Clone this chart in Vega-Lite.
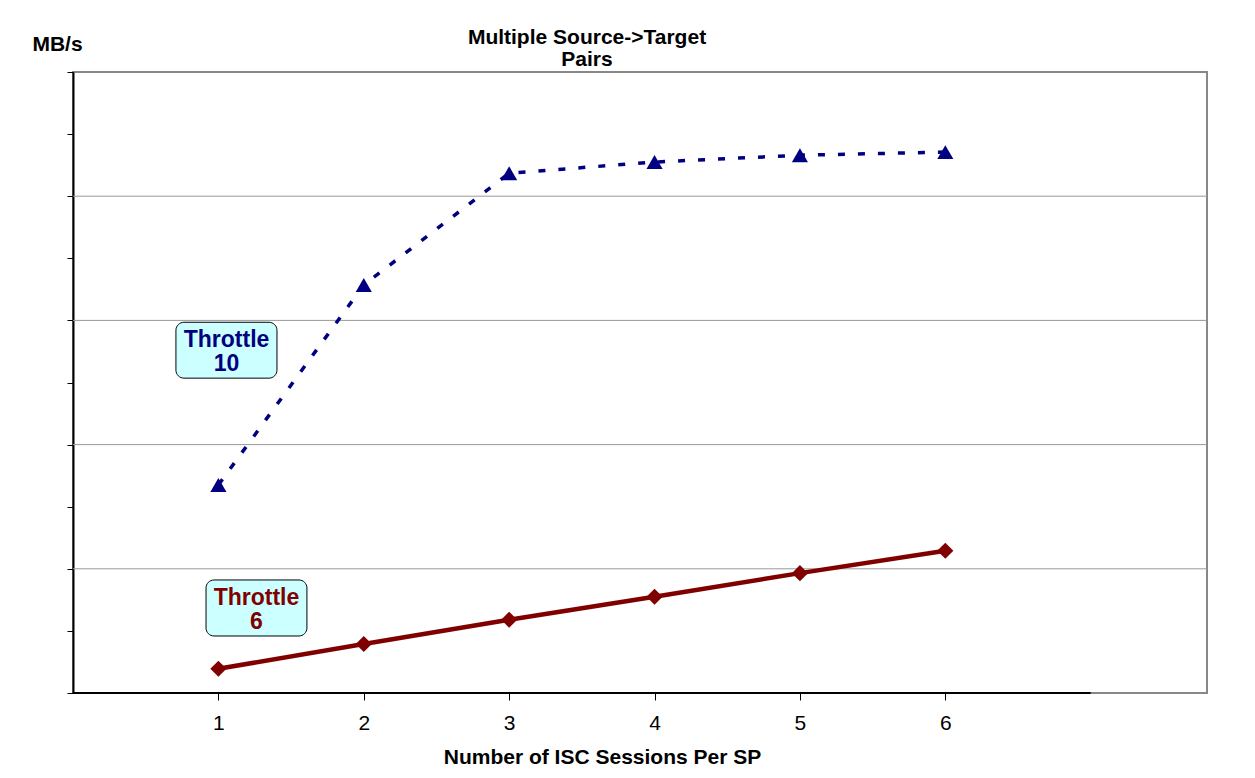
{
  "$schema": "https://vega.github.io/schema/vega-lite/v6.json",
  "width": 1134,
  "height": 621,
  "autosize": {"type": "none"},
  "padding": {"left": 73, "top": 72, "right": 48, "bottom": 85},
  "background": "white",
  "config": {
    "view": {"stroke": "#888888", "strokeWidth": 2},
    "font": "Liberation Sans"
  },
  "title": {
    "text": ["Multiple Source->Target", "Pairs"],
    "font": "Liberation Sans",
    "fontSize": 21,
    "fontWeight": "bold",
    "color": "black",
    "anchor": "middle",
    "frame": "group",
    "dx": -53,
    "offset": -37,
    "lineHeight": 22
  },
  "datasets": {
    "series": [
      {"sessions": 1, "mbps": 3.35, "series": "Throttle 10"},
      {"sessions": 2, "mbps": 6.57, "series": "Throttle 10"},
      {"sessions": 3, "mbps": 8.37, "series": "Throttle 10"},
      {"sessions": 4, "mbps": 8.55, "series": "Throttle 10"},
      {"sessions": 5, "mbps": 8.66, "series": "Throttle 10"},
      {"sessions": 6, "mbps": 8.71, "series": "Throttle 10"},
      {"sessions": 1, "mbps": 0.39, "series": "Throttle 6"},
      {"sessions": 2, "mbps": 0.79, "series": "Throttle 6"},
      {"sessions": 3, "mbps": 1.18, "series": "Throttle 6"},
      {"sessions": 4, "mbps": 1.55, "series": "Throttle 6"},
      {"sessions": 5, "mbps": 1.93, "series": "Throttle 6"},
      {"sessions": 6, "mbps": 2.29, "series": "Throttle 6"}
    ],
    "grid": [{"g": 2}, {"g": 4}, {"g": 6}, {"g": 8}],
    "boxes": [
      {"label": "Throttle\n10", "series": "Throttle 10", "x1": 0.708, "x2": 1.403, "y1": 5.07, "y2": 5.97, "tx": 1.056, "ty": 5.69},
      {"label": "Throttle\n6", "series": "Throttle 6", "x1": 0.915, "x2": 1.609, "y1": 0.918, "y2": 1.82, "tx": 1.262, "ty": 1.53}
    ],
    "baseline": [{"x1": 0, "x2": 7, "y": 0}]
  },
  "layer": [
    {
      "data": {"name": "grid"},
      "mark": {"type": "rule", "color": "#999999", "strokeWidth": 1},
      "encoding": {
        "y": {
          "field": "g",
          "type": "quantitative",
          "scale": {"domain": [0, 10], "nice": false, "zero": false},
          "axis": {
            "values": [0, 1, 2, 3, 4, 5, 6, 7, 8, 9, 10],
            "labels": false,
            "grid": false,
            "domainColor": "black",
            "domainWidth": 2,
            "tickColor": "black",
            "tickWidth": 1,
            "tickSize": 6,
            "title": "MB/s",
            "titleAngle": 0,
            "titleX": -16,
            "titleY": -28,
            "titleAlign": "center",
            "titleBaseline": "middle",
            "titleFont": "Liberation Sans",
            "titleFontSize": 21,
            "titleFontWeight": "bold",
            "titleColor": "black"
          }
        }
      }
    },
    {
      "data": {"name": "baseline"},
      "mark": {"type": "rule", "color": "black", "strokeWidth": 2},
      "encoding": {
        "x": {
          "field": "x1",
          "type": "quantitative",
          "scale": {"domain": [0, 7.8], "nice": false, "zero": false},
          "axis": {
            "values": [1, 2, 3, 4, 5, 6],
            "format": "d",
            "domain": false,
            "grid": false,
            "tickColor": "black",
            "tickWidth": 1,
            "tickSize": 7,
            "labelFont": "Liberation Sans",
            "labelFontSize": 21,
            "labelColor": "black",
            "labelPadding": 12,
            "title": "Number of ISC Sessions Per SP",
            "titleFont": "Liberation Sans",
            "titleFontSize": 21,
            "titleFontWeight": "bold",
            "titleColor": "black",
            "titleX": 529,
            "titleY": 64,
            "titleAlign": "center",
            "titleBaseline": "middle"
          }
        },
        "x2": {"field": "x2"},
        "y": {"field": "y", "type": "quantitative"}
      }
    },
    {
      "data": {"name": "series"},
      "mark": {"type": "line", "color": "#000080", "strokeWidth": 3.5, "strokeDash": [7, 13]},
      "transform": [{"filter": "datum.series === 'Throttle 10'"}],
      "encoding": {
        "x": {"field": "sessions", "type": "quantitative"},
        "y": {"field": "mbps", "type": "quantitative"}
      }
    },
    {
      "data": {"name": "series"},
      "mark": {"type": "line", "color": "#800000", "strokeWidth": 4.5},
      "transform": [{"filter": "datum.series === 'Throttle 6'"}],
      "encoding": {
        "x": {"field": "sessions", "type": "quantitative"},
        "y": {"field": "mbps", "type": "quantitative"}
      }
    },
    {
      "data": {"name": "series"},
      "mark": {"type": "point", "shape": "triangle-up", "filled": true, "color": "#000080", "size": 260, "opacity": 1},
      "transform": [{"filter": "datum.series === 'Throttle 10'"}],
      "encoding": {
        "x": {"field": "sessions", "type": "quantitative"},
        "y": {"field": "mbps", "type": "quantitative"}
      }
    },
    {
      "data": {"name": "series"},
      "mark": {"type": "point", "shape": "diamond", "filled": true, "color": "#800000", "size": 260, "opacity": 1},
      "transform": [{"filter": "datum.series === 'Throttle 6'"}],
      "encoding": {
        "x": {"field": "sessions", "type": "quantitative"},
        "y": {"field": "mbps", "type": "quantitative"}
      }
    },
    {
      "data": {"name": "boxes"},
      "mark": {"type": "rect", "fill": "#ccffff", "stroke": "black", "strokeWidth": 1, "cornerRadius": 8},
      "encoding": {
        "x": {"field": "x1", "type": "quantitative"},
        "x2": {"field": "x2"},
        "y": {"field": "y1", "type": "quantitative"},
        "y2": {"field": "y2"}
      }
    },
    {
      "data": {"name": "boxes"},
      "mark": {"type": "text", "font": "Liberation Sans", "fontSize": 23, "fontWeight": "bold", "lineBreak": "\n", "lineHeight": 24, "align": "center", "baseline": "middle"},
      "encoding": {
        "x": {"field": "tx", "type": "quantitative"},
        "y": {"field": "ty", "type": "quantitative"},
        "text": {"field": "label"},
        "color": {
          "field": "series",
          "type": "nominal",
          "scale": {"domain": ["Throttle 10", "Throttle 6"], "range": ["#000080", "#800000"]},
          "legend": null
        }
      }
    }
  ]
}
